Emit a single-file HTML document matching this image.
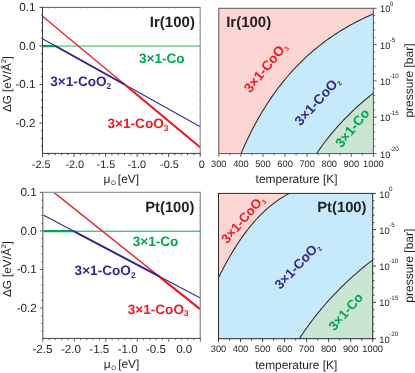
<!DOCTYPE html>
<html><head><meta charset="utf-8"><title>Phase diagrams</title>
<style>
html,body{margin:0;padding:0;background:#fff;}
body{width:415px;height:373px;overflow:hidden;position:relative;font-family:"Liberation Sans",sans-serif;}
</style></head><body>
<div id="fig" style="position:absolute;left:0;top:0;width:415px;height:373px;will-change:transform">
<svg width="415" height="373" viewBox="0 0 415 373" style="position:absolute;left:0;top:0" font-family="Liberation Sans, sans-serif" text-rendering="geometricPrecision">
<rect width="415" height="373" fill="#fff"/>
<clipPath id="rp2196"><rect x="218.8" y="8.3" width="154.6" height="145.3"/></clipPath>
<g clip-path="url(#rp2196)">
<rect x="218.8" y="8.3" width="154.6" height="145.3" fill="#fdd5d3"/>
<path d="M239.8,156.56 L241.51,152.5 L243.22,148.57 L244.93,144.76 L246.64,141.05 L248.35,137.46 L250.06,133.96 L251.77,130.57 L253.48,127.26 L255.19,124.05 L256.9,120.92 L258.61,117.88 L260.32,114.91 L262.03,112.02 L263.74,109.21 L265.45,106.46 L267.16,103.79 L268.87,101.18 L270.58,98.63 L272.29,96.15 L274,93.72 L275.71,91.35 L277.42,89.04 L279.13,86.78 L280.84,84.57 L282.55,82.42 L284.26,80.31 L285.97,78.25 L287.68,76.23 L289.39,74.26 L291.1,72.33 L292.81,70.44 L294.52,68.6 L296.23,66.79 L297.94,65.02 L299.65,63.29 L301.36,61.6 L303.07,59.94 L304.78,58.31 L306.49,56.72 L308.21,55.16 L309.92,53.64 L311.63,52.14 L313.34,50.67 L315.05,49.24 L316.76,47.83 L318.47,46.45 L320.18,45.1 L321.89,43.77 L323.6,42.47 L325.31,41.2 L327.02,39.95 L328.73,38.73 L330.44,37.53 L332.15,36.35 L333.86,35.19 L335.57,34.06 L337.28,32.95 L338.99,31.86 L340.7,30.79 L342.41,29.74 L344.12,28.72 L345.83,27.71 L347.54,26.72 L349.25,25.75 L350.96,24.8 L352.67,23.86 L354.38,22.95 L356.09,22.05 L357.8,21.17 L359.51,20.3 L361.22,19.45 L362.93,18.62 L364.64,17.8 L366.35,17 L368.06,16.22 L369.77,15.45 L371.48,14.69 L373.19,13.95 L374.9,13.22 L378.4,158.6 L239.8,158.6 Z" fill="#c7eafb"/>
<path d="M315.3,155.4 L316.05,154.28 L316.81,153.18 L317.56,152.09 L318.32,151.01 L319.07,149.94 L319.83,148.88 L320.58,147.83 L321.34,146.79 L322.09,145.76 L322.84,144.74 L323.6,143.73 L324.35,142.73 L325.11,141.74 L325.86,140.76 L326.62,139.78 L327.37,138.82 L328.13,137.86 L328.88,136.92 L329.63,135.98 L330.39,135.05 L331.14,134.13 L331.9,133.21 L332.65,132.31 L333.41,131.41 L334.16,130.52 L334.92,129.64 L335.67,128.77 L336.42,127.9 L337.18,127.04 L337.93,126.19 L338.69,125.35 L339.44,124.51 L340.2,123.69 L340.95,122.86 L341.71,122.05 L342.46,121.24 L343.21,120.44 L343.97,119.65 L344.72,118.86 L345.48,118.08 L346.23,117.3 L346.99,116.53 L347.74,115.77 L348.49,115.02 L349.25,114.27 L350,113.53 L350.76,112.79 L351.51,112.06 L352.27,111.33 L353.02,110.61 L353.78,109.9 L354.53,109.19 L355.28,108.49 L356.04,107.79 L356.79,107.1 L357.55,106.42 L358.3,105.74 L359.06,105.06 L359.81,104.39 L360.57,103.73 L361.32,103.07 L362.07,102.42 L362.83,101.77 L363.58,101.13 L364.34,100.49 L365.09,99.85 L365.85,99.23 L366.6,98.6 L367.36,97.98 L368.11,97.37 L368.86,96.76 L369.62,96.15 L370.37,95.55 L371.13,94.95 L371.88,94.36 L372.64,93.77 L373.39,93.19 L374.15,92.61 L374.9,92.04 L378.4,158.6 L315.3,158.6 Z" fill="#cae6d3"/>
<path d="M239.8,156.56 L241.51,152.5 L243.22,148.57 L244.93,144.76 L246.64,141.05 L248.35,137.46 L250.06,133.96 L251.77,130.57 L253.48,127.26 L255.19,124.05 L256.9,120.92 L258.61,117.88 L260.32,114.91 L262.03,112.02 L263.74,109.21 L265.45,106.46 L267.16,103.79 L268.87,101.18 L270.58,98.63 L272.29,96.15 L274,93.72 L275.71,91.35 L277.42,89.04 L279.13,86.78 L280.84,84.57 L282.55,82.42 L284.26,80.31 L285.97,78.25 L287.68,76.23 L289.39,74.26 L291.1,72.33 L292.81,70.44 L294.52,68.6 L296.23,66.79 L297.94,65.02 L299.65,63.29 L301.36,61.6 L303.07,59.94 L304.78,58.31 L306.49,56.72 L308.21,55.16 L309.92,53.64 L311.63,52.14 L313.34,50.67 L315.05,49.24 L316.76,47.83 L318.47,46.45 L320.18,45.1 L321.89,43.77 L323.6,42.47 L325.31,41.2 L327.02,39.95 L328.73,38.73 L330.44,37.53 L332.15,36.35 L333.86,35.19 L335.57,34.06 L337.28,32.95 L338.99,31.86 L340.7,30.79 L342.41,29.74 L344.12,28.72 L345.83,27.71 L347.54,26.72 L349.25,25.75 L350.96,24.8 L352.67,23.86 L354.38,22.95 L356.09,22.05 L357.8,21.17 L359.51,20.3 L361.22,19.45 L362.93,18.62 L364.64,17.8 L366.35,17 L368.06,16.22 L369.77,15.45 L371.48,14.69 L373.19,13.95 L374.9,13.22" fill="none" stroke="#2a2a2a" stroke-width="1.05"/>
<path d="M315.3,155.4 L316.05,154.28 L316.81,153.18 L317.56,152.09 L318.32,151.01 L319.07,149.94 L319.83,148.88 L320.58,147.83 L321.34,146.79 L322.09,145.76 L322.84,144.74 L323.6,143.73 L324.35,142.73 L325.11,141.74 L325.86,140.76 L326.62,139.78 L327.37,138.82 L328.13,137.86 L328.88,136.92 L329.63,135.98 L330.39,135.05 L331.14,134.13 L331.9,133.21 L332.65,132.31 L333.41,131.41 L334.16,130.52 L334.92,129.64 L335.67,128.77 L336.42,127.9 L337.18,127.04 L337.93,126.19 L338.69,125.35 L339.44,124.51 L340.2,123.69 L340.95,122.86 L341.71,122.05 L342.46,121.24 L343.21,120.44 L343.97,119.65 L344.72,118.86 L345.48,118.08 L346.23,117.3 L346.99,116.53 L347.74,115.77 L348.49,115.02 L349.25,114.27 L350,113.53 L350.76,112.79 L351.51,112.06 L352.27,111.33 L353.02,110.61 L353.78,109.9 L354.53,109.19 L355.28,108.49 L356.04,107.79 L356.79,107.1 L357.55,106.42 L358.3,105.74 L359.06,105.06 L359.81,104.39 L360.57,103.73 L361.32,103.07 L362.07,102.42 L362.83,101.77 L363.58,101.13 L364.34,100.49 L365.09,99.85 L365.85,99.23 L366.6,98.6 L367.36,97.98 L368.11,97.37 L368.86,96.76 L369.62,96.15 L370.37,95.55 L371.13,94.95 L371.88,94.36 L372.64,93.77 L373.39,93.19 L374.15,92.61 L374.9,92.04" fill="none" stroke="#2a2a2a" stroke-width="1.05"/>
</g>
<clipPath id="rp2378"><rect x="218.5" y="193.4" width="154.2" height="145.3"/></clipPath>
<g clip-path="url(#rp2378)">
<rect x="218.5" y="193.4" width="154.2" height="145.3" fill="#fdd5d3"/>
<path d="M216.9,281.07 L217.82,279.17 L218.74,277.29 L219.66,275.44 L220.58,273.61 L221.49,271.8 L222.41,270.01 L223.33,268.25 L224.25,266.51 L225.17,264.79 L226.09,263.1 L227.01,261.43 L227.93,259.78 L228.85,258.15 L229.77,256.55 L230.68,254.97 L231.6,253.41 L232.52,251.87 L233.44,250.36 L234.36,248.87 L235.28,247.4 L236.2,245.95 L237.12,244.52 L238.04,243.12 L238.96,241.73 L239.87,240.37 L240.79,239.03 L241.71,237.71 L242.63,236.41 L243.55,235.13 L244.47,233.87 L245.39,232.63 L246.31,231.41 L247.23,230.21 L248.15,229.03 L249.06,227.87 L249.98,226.73 L250.9,225.6 L251.82,224.5 L252.74,223.42 L253.66,222.35 L254.58,221.3 L255.5,220.27 L256.42,219.26 L257.34,218.26 L258.25,217.29 L259.17,216.33 L260.09,215.39 L261.01,214.46 L261.93,213.55 L262.85,212.66 L263.77,211.79 L264.69,210.93 L265.61,210.08 L266.53,209.26 L267.44,208.45 L268.36,207.65 L269.28,206.87 L270.2,206.11 L271.12,205.36 L272.04,204.63 L272.96,203.91 L273.88,203.2 L274.8,202.51 L275.72,201.84 L276.63,201.18 L277.55,200.53 L278.47,199.9 L279.39,199.28 L280.31,198.68 L281.23,198.09 L282.15,197.51 L283.07,196.94 L283.99,196.39 L284.91,195.86 L285.82,195.33 L286.74,194.82 L287.66,194.32 L288.58,193.83 L289.5,193.36 L377.7,188.4 L377.7,343.7 L213.5,343.7 Z" fill="#c7eafb"/>
<path d="M298,340.83 L298.96,339.33 L299.93,337.85 L300.89,336.38 L301.85,334.93 L302.82,333.5 L303.78,332.08 L304.74,330.68 L305.71,329.3 L306.67,327.94 L307.63,326.58 L308.6,325.25 L309.56,323.93 L310.52,322.62 L311.49,321.33 L312.45,320.05 L313.41,318.79 L314.38,317.54 L315.34,316.3 L316.3,315.08 L317.27,313.87 L318.23,312.67 L319.19,311.48 L320.16,310.31 L321.12,309.15 L322.08,308 L323.05,306.86 L324.01,305.73 L324.97,304.62 L325.94,303.51 L326.9,302.42 L327.86,301.33 L328.83,300.26 L329.79,299.2 L330.75,298.14 L331.72,297.1 L332.68,296.07 L333.64,295.04 L334.61,294.03 L335.57,293.02 L336.53,292.03 L337.49,291.04 L338.46,290.06 L339.42,289.09 L340.38,288.13 L341.35,287.17 L342.31,286.23 L343.27,285.29 L344.24,284.36 L345.2,283.44 L346.16,282.53 L347.13,281.62 L348.09,280.72 L349.05,279.83 L350.02,278.95 L350.98,278.07 L351.94,277.2 L352.91,276.33 L353.87,275.48 L354.83,274.63 L355.8,273.79 L356.76,272.95 L357.72,272.12 L358.69,271.29 L359.65,270.48 L360.61,269.66 L361.58,268.86 L362.54,268.06 L363.5,267.26 L364.47,266.48 L365.43,265.69 L366.39,264.92 L367.36,264.14 L368.32,263.38 L369.28,262.62 L370.25,261.86 L371.21,261.11 L372.17,260.37 L373.14,259.63 L374.1,258.89 L377.7,343.7 L298,343.7 Z" fill="#cae6d3"/>
<path d="M216.9,281.07 L217.82,279.17 L218.74,277.29 L219.66,275.44 L220.58,273.61 L221.49,271.8 L222.41,270.01 L223.33,268.25 L224.25,266.51 L225.17,264.79 L226.09,263.1 L227.01,261.43 L227.93,259.78 L228.85,258.15 L229.77,256.55 L230.68,254.97 L231.6,253.41 L232.52,251.87 L233.44,250.36 L234.36,248.87 L235.28,247.4 L236.2,245.95 L237.12,244.52 L238.04,243.12 L238.96,241.73 L239.87,240.37 L240.79,239.03 L241.71,237.71 L242.63,236.41 L243.55,235.13 L244.47,233.87 L245.39,232.63 L246.31,231.41 L247.23,230.21 L248.15,229.03 L249.06,227.87 L249.98,226.73 L250.9,225.6 L251.82,224.5 L252.74,223.42 L253.66,222.35 L254.58,221.3 L255.5,220.27 L256.42,219.26 L257.34,218.26 L258.25,217.29 L259.17,216.33 L260.09,215.39 L261.01,214.46 L261.93,213.55 L262.85,212.66 L263.77,211.79 L264.69,210.93 L265.61,210.08 L266.53,209.26 L267.44,208.45 L268.36,207.65 L269.28,206.87 L270.2,206.11 L271.12,205.36 L272.04,204.63 L272.96,203.91 L273.88,203.2 L274.8,202.51 L275.72,201.84 L276.63,201.18 L277.55,200.53 L278.47,199.9 L279.39,199.28 L280.31,198.68 L281.23,198.09 L282.15,197.51 L283.07,196.94 L283.99,196.39 L284.91,195.86 L285.82,195.33 L286.74,194.82 L287.66,194.32 L288.58,193.83 L289.5,193.36" fill="none" stroke="#2a2a2a" stroke-width="1.05"/>
<path d="M298,340.83 L298.96,339.33 L299.93,337.85 L300.89,336.38 L301.85,334.93 L302.82,333.5 L303.78,332.08 L304.74,330.68 L305.71,329.3 L306.67,327.94 L307.63,326.58 L308.6,325.25 L309.56,323.93 L310.52,322.62 L311.49,321.33 L312.45,320.05 L313.41,318.79 L314.38,317.54 L315.34,316.3 L316.3,315.08 L317.27,313.87 L318.23,312.67 L319.19,311.48 L320.16,310.31 L321.12,309.15 L322.08,308 L323.05,306.86 L324.01,305.73 L324.97,304.62 L325.94,303.51 L326.9,302.42 L327.86,301.33 L328.83,300.26 L329.79,299.2 L330.75,298.14 L331.72,297.1 L332.68,296.07 L333.64,295.04 L334.61,294.03 L335.57,293.02 L336.53,292.03 L337.49,291.04 L338.46,290.06 L339.42,289.09 L340.38,288.13 L341.35,287.17 L342.31,286.23 L343.27,285.29 L344.24,284.36 L345.2,283.44 L346.16,282.53 L347.13,281.62 L348.09,280.72 L349.05,279.83 L350.02,278.95 L350.98,278.07 L351.94,277.2 L352.91,276.33 L353.87,275.48 L354.83,274.63 L355.8,273.79 L356.76,272.95 L357.72,272.12 L358.69,271.29 L359.65,270.48 L360.61,269.66 L361.58,268.86 L362.54,268.06 L363.5,267.26 L364.47,266.48 L365.43,265.69 L366.39,264.92 L367.36,264.14 L368.32,263.38 L369.28,262.62 L370.25,261.86 L371.21,261.11 L372.17,260.37 L373.14,259.63 L374.1,258.89" fill="none" stroke="#2a2a2a" stroke-width="1.05"/>
</g>
<rect x="218.8" y="8.3" width="154.6" height="145.3" fill="none" stroke="#555" stroke-width="1.0"/>
<line x1="218.8" y1="153.6" x2="218.8" y2="156.9" stroke="#555" stroke-width="0.9"/>
<line x1="229.84" y1="153.6" x2="229.84" y2="155.3" stroke="#555" stroke-width="0.9"/>
<line x1="240.89" y1="153.6" x2="240.89" y2="156.9" stroke="#555" stroke-width="0.9"/>
<line x1="251.93" y1="153.6" x2="251.93" y2="155.3" stroke="#555" stroke-width="0.9"/>
<line x1="262.97" y1="153.6" x2="262.97" y2="156.9" stroke="#555" stroke-width="0.9"/>
<line x1="274.01" y1="153.6" x2="274.01" y2="155.3" stroke="#555" stroke-width="0.9"/>
<line x1="285.06" y1="153.6" x2="285.06" y2="156.9" stroke="#555" stroke-width="0.9"/>
<line x1="296.1" y1="153.6" x2="296.1" y2="155.3" stroke="#555" stroke-width="0.9"/>
<line x1="307.14" y1="153.6" x2="307.14" y2="156.9" stroke="#555" stroke-width="0.9"/>
<line x1="318.19" y1="153.6" x2="318.19" y2="155.3" stroke="#555" stroke-width="0.9"/>
<line x1="329.23" y1="153.6" x2="329.23" y2="156.9" stroke="#555" stroke-width="0.9"/>
<line x1="340.27" y1="153.6" x2="340.27" y2="155.3" stroke="#555" stroke-width="0.9"/>
<line x1="351.31" y1="153.6" x2="351.31" y2="156.9" stroke="#555" stroke-width="0.9"/>
<line x1="362.36" y1="153.6" x2="362.36" y2="155.3" stroke="#555" stroke-width="0.9"/>
<line x1="373.4" y1="153.6" x2="373.4" y2="156.9" stroke="#555" stroke-width="0.9"/>
<line x1="373.4" y1="8.3" x2="376.7" y2="8.3" stroke="#555" stroke-width="0.9"/>
<line x1="373.4" y1="15.56" x2="375.1" y2="15.56" stroke="#555" stroke-width="0.9"/>
<line x1="373.4" y1="22.83" x2="375.1" y2="22.83" stroke="#555" stroke-width="0.9"/>
<line x1="373.4" y1="30.09" x2="375.1" y2="30.09" stroke="#555" stroke-width="0.9"/>
<line x1="373.4" y1="37.36" x2="375.1" y2="37.36" stroke="#555" stroke-width="0.9"/>
<line x1="373.4" y1="44.62" x2="376.7" y2="44.62" stroke="#555" stroke-width="0.9"/>
<line x1="373.4" y1="51.89" x2="375.1" y2="51.89" stroke="#555" stroke-width="0.9"/>
<line x1="373.4" y1="59.15" x2="375.1" y2="59.15" stroke="#555" stroke-width="0.9"/>
<line x1="373.4" y1="66.42" x2="375.1" y2="66.42" stroke="#555" stroke-width="0.9"/>
<line x1="373.4" y1="73.68" x2="375.1" y2="73.68" stroke="#555" stroke-width="0.9"/>
<line x1="373.4" y1="80.95" x2="376.7" y2="80.95" stroke="#555" stroke-width="0.9"/>
<line x1="373.4" y1="88.21" x2="375.1" y2="88.21" stroke="#555" stroke-width="0.9"/>
<line x1="373.4" y1="95.48" x2="375.1" y2="95.48" stroke="#555" stroke-width="0.9"/>
<line x1="373.4" y1="102.74" x2="375.1" y2="102.74" stroke="#555" stroke-width="0.9"/>
<line x1="373.4" y1="110.01" x2="375.1" y2="110.01" stroke="#555" stroke-width="0.9"/>
<line x1="373.4" y1="117.27" x2="376.7" y2="117.27" stroke="#555" stroke-width="0.9"/>
<line x1="373.4" y1="124.54" x2="375.1" y2="124.54" stroke="#555" stroke-width="0.9"/>
<line x1="373.4" y1="131.8" x2="375.1" y2="131.8" stroke="#555" stroke-width="0.9"/>
<line x1="373.4" y1="139.07" x2="375.1" y2="139.07" stroke="#555" stroke-width="0.9"/>
<line x1="373.4" y1="146.33" x2="375.1" y2="146.33" stroke="#555" stroke-width="0.9"/>
<line x1="373.4" y1="153.6" x2="376.7" y2="153.6" stroke="#555" stroke-width="0.9"/>
<text x="218.8" y="166.8" font-size="9.3" text-anchor="middle" fill="#231f20">300</text>
<text x="240.89" y="166.8" font-size="9.3" text-anchor="middle" fill="#231f20">400</text>
<text x="262.97" y="166.8" font-size="9.3" text-anchor="middle" fill="#231f20">500</text>
<text x="285.06" y="166.8" font-size="9.3" text-anchor="middle" fill="#231f20">600</text>
<text x="307.14" y="166.8" font-size="9.3" text-anchor="middle" fill="#231f20">700</text>
<text x="329.23" y="166.8" font-size="9.3" text-anchor="middle" fill="#231f20">800</text>
<text x="351.31" y="166.8" font-size="9.3" text-anchor="middle" fill="#231f20">900</text>
<text x="373.4" y="166.8" font-size="9.3" text-anchor="middle" fill="#231f20">1000</text>
<text x="380" y="12.4" font-size="9.3" fill="#231f20">10<tspan font-size="6.3" dx="-0.6" dy="-6.8">0</tspan></text>
<text x="380" y="48.73" font-size="9.3" fill="#231f20">10<tspan font-size="6.3" dx="-0.6" dy="-6.8">-5</tspan></text>
<text x="380" y="85.05" font-size="9.3" fill="#231f20">10<tspan font-size="6.3" dx="-0.6" dy="-6.8">-10</tspan></text>
<text x="380" y="121.37" font-size="9.3" fill="#231f20">10<tspan font-size="6.3" dx="-0.6" dy="-6.8">-15</tspan></text>
<text x="380" y="157.7" font-size="9.3" fill="#231f20">10<tspan font-size="6.3" dx="-0.6" dy="-6.8">-20</tspan></text>
<text x="255.6" y="183" font-size="11.9" fill="#231f20">temperature [K]</text>
<text transform="translate(412.5,80.55) rotate(-90)" font-size="12" text-anchor="middle" fill="#231f20">pressure [bar]</text>
<rect x="218.5" y="193.4" width="154.2" height="145.3" fill="none" stroke="#2a2a2a" stroke-width="1.0"/>
<line x1="218.5" y1="338.7" x2="218.5" y2="342" stroke="#2a2a2a" stroke-width="0.9"/>
<line x1="229.51" y1="338.7" x2="229.51" y2="340.4" stroke="#2a2a2a" stroke-width="0.9"/>
<line x1="240.53" y1="338.7" x2="240.53" y2="342" stroke="#2a2a2a" stroke-width="0.9"/>
<line x1="251.54" y1="338.7" x2="251.54" y2="340.4" stroke="#2a2a2a" stroke-width="0.9"/>
<line x1="262.56" y1="338.7" x2="262.56" y2="342" stroke="#2a2a2a" stroke-width="0.9"/>
<line x1="273.57" y1="338.7" x2="273.57" y2="340.4" stroke="#2a2a2a" stroke-width="0.9"/>
<line x1="284.59" y1="338.7" x2="284.59" y2="342" stroke="#2a2a2a" stroke-width="0.9"/>
<line x1="295.6" y1="338.7" x2="295.6" y2="340.4" stroke="#2a2a2a" stroke-width="0.9"/>
<line x1="306.61" y1="338.7" x2="306.61" y2="342" stroke="#2a2a2a" stroke-width="0.9"/>
<line x1="317.63" y1="338.7" x2="317.63" y2="340.4" stroke="#2a2a2a" stroke-width="0.9"/>
<line x1="328.64" y1="338.7" x2="328.64" y2="342" stroke="#2a2a2a" stroke-width="0.9"/>
<line x1="339.66" y1="338.7" x2="339.66" y2="340.4" stroke="#2a2a2a" stroke-width="0.9"/>
<line x1="350.67" y1="338.7" x2="350.67" y2="342" stroke="#2a2a2a" stroke-width="0.9"/>
<line x1="361.69" y1="338.7" x2="361.69" y2="340.4" stroke="#2a2a2a" stroke-width="0.9"/>
<line x1="372.7" y1="338.7" x2="372.7" y2="342" stroke="#2a2a2a" stroke-width="0.9"/>
<line x1="372.7" y1="193.4" x2="376" y2="193.4" stroke="#2a2a2a" stroke-width="0.9"/>
<line x1="372.7" y1="200.66" x2="374.4" y2="200.66" stroke="#2a2a2a" stroke-width="0.9"/>
<line x1="372.7" y1="207.93" x2="374.4" y2="207.93" stroke="#2a2a2a" stroke-width="0.9"/>
<line x1="372.7" y1="215.19" x2="374.4" y2="215.19" stroke="#2a2a2a" stroke-width="0.9"/>
<line x1="372.7" y1="222.46" x2="374.4" y2="222.46" stroke="#2a2a2a" stroke-width="0.9"/>
<line x1="372.7" y1="229.72" x2="376" y2="229.72" stroke="#2a2a2a" stroke-width="0.9"/>
<line x1="372.7" y1="236.99" x2="374.4" y2="236.99" stroke="#2a2a2a" stroke-width="0.9"/>
<line x1="372.7" y1="244.25" x2="374.4" y2="244.25" stroke="#2a2a2a" stroke-width="0.9"/>
<line x1="372.7" y1="251.52" x2="374.4" y2="251.52" stroke="#2a2a2a" stroke-width="0.9"/>
<line x1="372.7" y1="258.78" x2="374.4" y2="258.78" stroke="#2a2a2a" stroke-width="0.9"/>
<line x1="372.7" y1="266.05" x2="376" y2="266.05" stroke="#2a2a2a" stroke-width="0.9"/>
<line x1="372.7" y1="273.31" x2="374.4" y2="273.31" stroke="#2a2a2a" stroke-width="0.9"/>
<line x1="372.7" y1="280.58" x2="374.4" y2="280.58" stroke="#2a2a2a" stroke-width="0.9"/>
<line x1="372.7" y1="287.84" x2="374.4" y2="287.84" stroke="#2a2a2a" stroke-width="0.9"/>
<line x1="372.7" y1="295.11" x2="374.4" y2="295.11" stroke="#2a2a2a" stroke-width="0.9"/>
<line x1="372.7" y1="302.38" x2="376" y2="302.38" stroke="#2a2a2a" stroke-width="0.9"/>
<line x1="372.7" y1="309.64" x2="374.4" y2="309.64" stroke="#2a2a2a" stroke-width="0.9"/>
<line x1="372.7" y1="316.9" x2="374.4" y2="316.9" stroke="#2a2a2a" stroke-width="0.9"/>
<line x1="372.7" y1="324.17" x2="374.4" y2="324.17" stroke="#2a2a2a" stroke-width="0.9"/>
<line x1="372.7" y1="331.43" x2="374.4" y2="331.43" stroke="#2a2a2a" stroke-width="0.9"/>
<line x1="372.7" y1="338.7" x2="376" y2="338.7" stroke="#2a2a2a" stroke-width="0.9"/>
<text x="218.5" y="351.9" font-size="9.3" text-anchor="middle" fill="#231f20">300</text>
<text x="240.53" y="351.9" font-size="9.3" text-anchor="middle" fill="#231f20">400</text>
<text x="262.56" y="351.9" font-size="9.3" text-anchor="middle" fill="#231f20">500</text>
<text x="284.59" y="351.9" font-size="9.3" text-anchor="middle" fill="#231f20">600</text>
<text x="306.61" y="351.9" font-size="9.3" text-anchor="middle" fill="#231f20">700</text>
<text x="328.64" y="351.9" font-size="9.3" text-anchor="middle" fill="#231f20">800</text>
<text x="350.67" y="351.9" font-size="9.3" text-anchor="middle" fill="#231f20">900</text>
<text x="372.7" y="351.9" font-size="9.3" text-anchor="middle" fill="#231f20">1000</text>
<text x="379.3" y="197.5" font-size="9.3" fill="#231f20">10<tspan font-size="6.3" dx="-0.6" dy="-6.8">0</tspan></text>
<text x="379.3" y="233.82" font-size="9.3" fill="#231f20">10<tspan font-size="6.3" dx="-0.6" dy="-6.8">-5</tspan></text>
<text x="379.3" y="270.15" font-size="9.3" fill="#231f20">10<tspan font-size="6.3" dx="-0.6" dy="-6.8">-10</tspan></text>
<text x="379.3" y="306.48" font-size="9.3" fill="#231f20">10<tspan font-size="6.3" dx="-0.6" dy="-6.8">-15</tspan></text>
<text x="379.3" y="342.8" font-size="9.3" fill="#231f20">10<tspan font-size="6.3" dx="-0.6" dy="-6.8">-20</tspan></text>
<text x="255.3" y="369.3" font-size="11.9" fill="#231f20">temperature [K]</text>
<text transform="translate(412.5,265.65) rotate(-90)" font-size="12" text-anchor="middle" fill="#231f20">pressure [bar]</text>
<clipPath id="cp1"><rect x="42.5" y="7.4" width="157.7" height="146"/></clipPath>
<g clip-path="url(#cp1)">
<line x1="55.4" y1="46.1" x2="200.2" y2="46.1" stroke="#88d2a4" stroke-width="1.7"/>
<line x1="42.5" y1="46.1" x2="55.4" y2="46.1" stroke="#00a651" stroke-width="2.2"/>
<line x1="42.5" y1="38.8" x2="202.54" y2="127.95" stroke="#36298d" stroke-width="1.1"/>
<line x1="42.5" y1="16.2" x2="202.54" y2="149.21" stroke="#ed1c24" stroke-width="1.25"/>
<line x1="55.4" y1="45.99" x2="125" y2="84.76" stroke="#36298d" stroke-width="1.9"/>
<line x1="125" y1="84.77" x2="202.54" y2="149.21" stroke="#ed1c24" stroke-width="2.0"/>
</g>
<line x1="42.5" y1="7.4" x2="200.2" y2="7.4" stroke="#4a4a4a" stroke-width="0.9"/>
<line x1="200.2" y1="6.95" x2="200.2" y2="153.4" stroke="#8c8c8c" stroke-width="1.1"/>
<line x1="42.5" y1="6.95" x2="42.5" y2="153.9" stroke="#3a3a3a" stroke-width="1.0"/>
<line x1="42.5" y1="153.4" x2="200.75" y2="153.4" stroke="#3a3a3a" stroke-width="1.0"/>
<line x1="48.81" y1="7.4" x2="48.81" y2="8.4" stroke="#4a4a4a" stroke-width="0.7" opacity="0.6"/>
<line x1="55.12" y1="7.4" x2="55.12" y2="8.4" stroke="#4a4a4a" stroke-width="0.7" opacity="0.6"/>
<line x1="61.42" y1="7.4" x2="61.42" y2="8.4" stroke="#4a4a4a" stroke-width="0.7" opacity="0.6"/>
<line x1="67.73" y1="7.4" x2="67.73" y2="8.4" stroke="#4a4a4a" stroke-width="0.7" opacity="0.6"/>
<line x1="74.04" y1="7.4" x2="74.04" y2="8.4" stroke="#4a4a4a" stroke-width="0.7" opacity="0.6"/>
<line x1="80.35" y1="7.4" x2="80.35" y2="8.4" stroke="#4a4a4a" stroke-width="0.7" opacity="0.6"/>
<line x1="86.66" y1="7.4" x2="86.66" y2="8.4" stroke="#4a4a4a" stroke-width="0.7" opacity="0.6"/>
<line x1="92.96" y1="7.4" x2="92.96" y2="8.4" stroke="#4a4a4a" stroke-width="0.7" opacity="0.6"/>
<line x1="99.27" y1="7.4" x2="99.27" y2="8.4" stroke="#4a4a4a" stroke-width="0.7" opacity="0.6"/>
<line x1="105.58" y1="7.4" x2="105.58" y2="8.4" stroke="#4a4a4a" stroke-width="0.7" opacity="0.6"/>
<line x1="111.89" y1="7.4" x2="111.89" y2="8.4" stroke="#4a4a4a" stroke-width="0.7" opacity="0.6"/>
<line x1="118.2" y1="7.4" x2="118.2" y2="8.4" stroke="#4a4a4a" stroke-width="0.7" opacity="0.6"/>
<line x1="124.5" y1="7.4" x2="124.5" y2="8.4" stroke="#4a4a4a" stroke-width="0.7" opacity="0.6"/>
<line x1="130.81" y1="7.4" x2="130.81" y2="8.4" stroke="#4a4a4a" stroke-width="0.7" opacity="0.6"/>
<line x1="137.12" y1="7.4" x2="137.12" y2="8.4" stroke="#4a4a4a" stroke-width="0.7" opacity="0.6"/>
<line x1="143.43" y1="7.4" x2="143.43" y2="8.4" stroke="#4a4a4a" stroke-width="0.7" opacity="0.6"/>
<line x1="149.74" y1="7.4" x2="149.74" y2="8.4" stroke="#4a4a4a" stroke-width="0.7" opacity="0.6"/>
<line x1="156.04" y1="7.4" x2="156.04" y2="8.4" stroke="#4a4a4a" stroke-width="0.7" opacity="0.6"/>
<line x1="162.35" y1="7.4" x2="162.35" y2="8.4" stroke="#4a4a4a" stroke-width="0.7" opacity="0.6"/>
<line x1="168.66" y1="7.4" x2="168.66" y2="8.4" stroke="#4a4a4a" stroke-width="0.7" opacity="0.6"/>
<line x1="174.97" y1="7.4" x2="174.97" y2="8.4" stroke="#4a4a4a" stroke-width="0.7" opacity="0.6"/>
<line x1="181.28" y1="7.4" x2="181.28" y2="8.4" stroke="#4a4a4a" stroke-width="0.7" opacity="0.6"/>
<line x1="187.58" y1="7.4" x2="187.58" y2="8.4" stroke="#4a4a4a" stroke-width="0.7" opacity="0.6"/>
<line x1="193.89" y1="7.4" x2="193.89" y2="8.4" stroke="#4a4a4a" stroke-width="0.7" opacity="0.6"/>
<line x1="199.2" y1="15.11" x2="200.8" y2="15.11" stroke="#6a6a6a" stroke-width="0.7" opacity="0.6"/>
<line x1="199.2" y1="22.82" x2="200.8" y2="22.82" stroke="#6a6a6a" stroke-width="0.7" opacity="0.6"/>
<line x1="199.2" y1="30.53" x2="200.8" y2="30.53" stroke="#6a6a6a" stroke-width="0.7" opacity="0.6"/>
<line x1="199.2" y1="38.24" x2="200.8" y2="38.24" stroke="#6a6a6a" stroke-width="0.7" opacity="0.6"/>
<line x1="199.2" y1="45.95" x2="200.8" y2="45.95" stroke="#6a6a6a" stroke-width="0.7" opacity="0.6"/>
<line x1="199.2" y1="53.66" x2="200.8" y2="53.66" stroke="#6a6a6a" stroke-width="0.7" opacity="0.6"/>
<line x1="199.2" y1="61.37" x2="200.8" y2="61.37" stroke="#6a6a6a" stroke-width="0.7" opacity="0.6"/>
<line x1="199.2" y1="69.08" x2="200.8" y2="69.08" stroke="#6a6a6a" stroke-width="0.7" opacity="0.6"/>
<line x1="199.2" y1="76.79" x2="200.8" y2="76.79" stroke="#6a6a6a" stroke-width="0.7" opacity="0.6"/>
<line x1="199.2" y1="84.5" x2="200.8" y2="84.5" stroke="#6a6a6a" stroke-width="0.7" opacity="0.6"/>
<line x1="199.2" y1="92.21" x2="200.8" y2="92.21" stroke="#6a6a6a" stroke-width="0.7" opacity="0.6"/>
<line x1="199.2" y1="99.92" x2="200.8" y2="99.92" stroke="#6a6a6a" stroke-width="0.7" opacity="0.6"/>
<line x1="199.2" y1="107.63" x2="200.8" y2="107.63" stroke="#6a6a6a" stroke-width="0.7" opacity="0.6"/>
<line x1="199.2" y1="115.34" x2="200.8" y2="115.34" stroke="#6a6a6a" stroke-width="0.7" opacity="0.6"/>
<line x1="199.2" y1="123.05" x2="200.8" y2="123.05" stroke="#6a6a6a" stroke-width="0.7" opacity="0.6"/>
<line x1="199.2" y1="130.76" x2="200.8" y2="130.76" stroke="#6a6a6a" stroke-width="0.7" opacity="0.6"/>
<line x1="199.2" y1="138.47" x2="200.8" y2="138.47" stroke="#6a6a6a" stroke-width="0.7" opacity="0.6"/>
<line x1="199.2" y1="146.18" x2="200.8" y2="146.18" stroke="#6a6a6a" stroke-width="0.7" opacity="0.6"/>
<line x1="42.5" y1="153.4" x2="42.5" y2="156.9" stroke="#3a3a3a" stroke-width="0.9"/>
<line x1="48.81" y1="153.4" x2="48.81" y2="155.2" stroke="#3a3a3a" stroke-width="0.9"/>
<line x1="55.12" y1="153.4" x2="55.12" y2="155.2" stroke="#3a3a3a" stroke-width="0.9"/>
<line x1="61.42" y1="153.4" x2="61.42" y2="155.2" stroke="#3a3a3a" stroke-width="0.9"/>
<line x1="67.73" y1="153.4" x2="67.73" y2="155.2" stroke="#3a3a3a" stroke-width="0.9"/>
<line x1="74.04" y1="153.4" x2="74.04" y2="156.9" stroke="#3a3a3a" stroke-width="0.9"/>
<line x1="80.35" y1="153.4" x2="80.35" y2="155.2" stroke="#3a3a3a" stroke-width="0.9"/>
<line x1="86.66" y1="153.4" x2="86.66" y2="155.2" stroke="#3a3a3a" stroke-width="0.9"/>
<line x1="92.96" y1="153.4" x2="92.96" y2="155.2" stroke="#3a3a3a" stroke-width="0.9"/>
<line x1="99.27" y1="153.4" x2="99.27" y2="155.2" stroke="#3a3a3a" stroke-width="0.9"/>
<line x1="105.58" y1="153.4" x2="105.58" y2="156.9" stroke="#3a3a3a" stroke-width="0.9"/>
<line x1="111.89" y1="153.4" x2="111.89" y2="155.2" stroke="#3a3a3a" stroke-width="0.9"/>
<line x1="118.2" y1="153.4" x2="118.2" y2="155.2" stroke="#3a3a3a" stroke-width="0.9"/>
<line x1="124.5" y1="153.4" x2="124.5" y2="155.2" stroke="#3a3a3a" stroke-width="0.9"/>
<line x1="130.81" y1="153.4" x2="130.81" y2="155.2" stroke="#3a3a3a" stroke-width="0.9"/>
<line x1="137.12" y1="153.4" x2="137.12" y2="156.9" stroke="#3a3a3a" stroke-width="0.9"/>
<line x1="143.43" y1="153.4" x2="143.43" y2="155.2" stroke="#3a3a3a" stroke-width="0.9"/>
<line x1="149.74" y1="153.4" x2="149.74" y2="155.2" stroke="#3a3a3a" stroke-width="0.9"/>
<line x1="156.04" y1="153.4" x2="156.04" y2="155.2" stroke="#3a3a3a" stroke-width="0.9"/>
<line x1="162.35" y1="153.4" x2="162.35" y2="155.2" stroke="#3a3a3a" stroke-width="0.9"/>
<line x1="168.66" y1="153.4" x2="168.66" y2="156.9" stroke="#3a3a3a" stroke-width="0.9"/>
<line x1="174.97" y1="153.4" x2="174.97" y2="155.2" stroke="#3a3a3a" stroke-width="0.9"/>
<line x1="181.28" y1="153.4" x2="181.28" y2="155.2" stroke="#3a3a3a" stroke-width="0.9"/>
<line x1="187.58" y1="153.4" x2="187.58" y2="155.2" stroke="#3a3a3a" stroke-width="0.9"/>
<line x1="193.89" y1="153.4" x2="193.89" y2="155.2" stroke="#3a3a3a" stroke-width="0.9"/>
<line x1="200.2" y1="153.4" x2="200.2" y2="156.9" stroke="#3a3a3a" stroke-width="0.9"/>
<line x1="39.5" y1="7.4" x2="42.5" y2="7.4" stroke="#3a3a3a" stroke-width="0.9"/>
<line x1="41" y1="15.11" x2="42.5" y2="15.11" stroke="#3a3a3a" stroke-width="0.9"/>
<line x1="41" y1="22.82" x2="42.5" y2="22.82" stroke="#3a3a3a" stroke-width="0.9"/>
<line x1="41" y1="30.53" x2="42.5" y2="30.53" stroke="#3a3a3a" stroke-width="0.9"/>
<line x1="41" y1="38.24" x2="42.5" y2="38.24" stroke="#3a3a3a" stroke-width="0.9"/>
<line x1="39.5" y1="45.95" x2="42.5" y2="45.95" stroke="#3a3a3a" stroke-width="0.9"/>
<line x1="41" y1="53.66" x2="42.5" y2="53.66" stroke="#3a3a3a" stroke-width="0.9"/>
<line x1="41" y1="61.37" x2="42.5" y2="61.37" stroke="#3a3a3a" stroke-width="0.9"/>
<line x1="41" y1="69.08" x2="42.5" y2="69.08" stroke="#3a3a3a" stroke-width="0.9"/>
<line x1="41" y1="76.79" x2="42.5" y2="76.79" stroke="#3a3a3a" stroke-width="0.9"/>
<line x1="39.5" y1="84.5" x2="42.5" y2="84.5" stroke="#3a3a3a" stroke-width="0.9"/>
<line x1="41" y1="92.21" x2="42.5" y2="92.21" stroke="#3a3a3a" stroke-width="0.9"/>
<line x1="41" y1="99.92" x2="42.5" y2="99.92" stroke="#3a3a3a" stroke-width="0.9"/>
<line x1="41" y1="107.63" x2="42.5" y2="107.63" stroke="#3a3a3a" stroke-width="0.9"/>
<line x1="41" y1="115.34" x2="42.5" y2="115.34" stroke="#3a3a3a" stroke-width="0.9"/>
<line x1="39.5" y1="123.05" x2="42.5" y2="123.05" stroke="#3a3a3a" stroke-width="0.9"/>
<line x1="41" y1="130.76" x2="42.5" y2="130.76" stroke="#3a3a3a" stroke-width="0.9"/>
<line x1="41" y1="138.47" x2="42.5" y2="138.47" stroke="#3a3a3a" stroke-width="0.9"/>
<line x1="41" y1="146.18" x2="42.5" y2="146.18" stroke="#3a3a3a" stroke-width="0.9"/>
<text x="35.6" y="11.3" font-size="11.7" text-anchor="end" fill="#231f20">0.1</text>
<text x="35.6" y="49.85" font-size="11.7" text-anchor="end" fill="#231f20">0.0</text>
<text x="35.6" y="88.4" font-size="11.7" text-anchor="end" fill="#231f20">-0.1</text>
<text x="35.6" y="126.95" font-size="11.7" text-anchor="end" fill="#231f20">-0.2</text>
<text x="41.2" y="168.3" font-size="10.9" text-anchor="middle" fill="#231f20">-2.5</text>
<text x="74.8" y="168.3" font-size="10.9" text-anchor="middle" fill="#231f20">-2.0</text>
<text x="106" y="168.3" font-size="10.9" text-anchor="middle" fill="#231f20">-1.5</text>
<text x="136.8" y="168.3" font-size="10.9" text-anchor="middle" fill="#231f20">-1.0</text>
<text x="169.4" y="168.3" font-size="10.9" text-anchor="middle" fill="#231f20">-0.5</text>
<text x="201.7" y="168.3" font-size="10.9" text-anchor="middle" fill="#231f20">0</text>
<text transform="translate(11.2,84.1) rotate(-90)" font-size="11.7" text-anchor="middle" fill="#231f20">ΔG [eV/Å<tspan font-size="7" dy="-5">2</tspan><tspan dy="5">]</tspan></text>
<text x="103.5" y="182.8" font-size="11.9" fill="#231f20">μ<tspan font-size="6.3" dx="0.7" dy="2.2">O</tspan><tspan dy="-2.2" dx="-1.4"> [eV]</tspan></text>
<clipPath id="cp2"><rect x="42.8" y="192.4" width="157.5" height="146"/></clipPath>
<g clip-path="url(#cp2)">
<line x1="74" y1="231.2" x2="200.2" y2="231.2" stroke="#00a651" stroke-width="1.0"/>
<line x1="43.2" y1="231.2" x2="74" y2="231.2" stroke="#00a651" stroke-width="2.3"/>
<line x1="43.2" y1="215.1" x2="203.34" y2="299.56" stroke="#36298d" stroke-width="1.1"/>
<line x1="53.9" y1="192.4" x2="203.13" y2="311.64" stroke="#ed1c24" stroke-width="1.4"/>
<line x1="74" y1="231.34" x2="160.2" y2="276.8" stroke="#36298d" stroke-width="1.9"/>
<line x1="160.2" y1="277.34" x2="203.13" y2="311.64" stroke="#ed1c24" stroke-width="2.1"/>
</g>
<line x1="42.8" y1="192.4" x2="200.3" y2="192.4" stroke="#999999" stroke-width="1.2"/>
<line x1="200.3" y1="191.8" x2="200.3" y2="338.4" stroke="#959595" stroke-width="1.3"/>
<line x1="42.8" y1="191.8" x2="42.8" y2="338.9" stroke="#8a8a8a" stroke-width="1.5"/>
<line x1="42.8" y1="338.4" x2="200.95" y2="338.4" stroke="#454545" stroke-width="1.0"/>
<line x1="49.1" y1="192.4" x2="49.1" y2="193.4" stroke="#999999" stroke-width="0.7" opacity="0.6"/>
<line x1="55.4" y1="192.4" x2="55.4" y2="193.4" stroke="#999999" stroke-width="0.7" opacity="0.6"/>
<line x1="61.7" y1="192.4" x2="61.7" y2="193.4" stroke="#999999" stroke-width="0.7" opacity="0.6"/>
<line x1="68" y1="192.4" x2="68" y2="193.4" stroke="#999999" stroke-width="0.7" opacity="0.6"/>
<line x1="74.3" y1="192.4" x2="74.3" y2="193.4" stroke="#999999" stroke-width="0.7" opacity="0.6"/>
<line x1="80.6" y1="192.4" x2="80.6" y2="193.4" stroke="#999999" stroke-width="0.7" opacity="0.6"/>
<line x1="86.9" y1="192.4" x2="86.9" y2="193.4" stroke="#999999" stroke-width="0.7" opacity="0.6"/>
<line x1="93.2" y1="192.4" x2="93.2" y2="193.4" stroke="#999999" stroke-width="0.7" opacity="0.6"/>
<line x1="99.5" y1="192.4" x2="99.5" y2="193.4" stroke="#999999" stroke-width="0.7" opacity="0.6"/>
<line x1="105.8" y1="192.4" x2="105.8" y2="193.4" stroke="#999999" stroke-width="0.7" opacity="0.6"/>
<line x1="112.1" y1="192.4" x2="112.1" y2="193.4" stroke="#999999" stroke-width="0.7" opacity="0.6"/>
<line x1="118.4" y1="192.4" x2="118.4" y2="193.4" stroke="#999999" stroke-width="0.7" opacity="0.6"/>
<line x1="124.7" y1="192.4" x2="124.7" y2="193.4" stroke="#999999" stroke-width="0.7" opacity="0.6"/>
<line x1="131" y1="192.4" x2="131" y2="193.4" stroke="#999999" stroke-width="0.7" opacity="0.6"/>
<line x1="137.3" y1="192.4" x2="137.3" y2="193.4" stroke="#999999" stroke-width="0.7" opacity="0.6"/>
<line x1="143.6" y1="192.4" x2="143.6" y2="193.4" stroke="#999999" stroke-width="0.7" opacity="0.6"/>
<line x1="149.9" y1="192.4" x2="149.9" y2="193.4" stroke="#999999" stroke-width="0.7" opacity="0.6"/>
<line x1="156.2" y1="192.4" x2="156.2" y2="193.4" stroke="#999999" stroke-width="0.7" opacity="0.6"/>
<line x1="162.5" y1="192.4" x2="162.5" y2="193.4" stroke="#999999" stroke-width="0.7" opacity="0.6"/>
<line x1="168.8" y1="192.4" x2="168.8" y2="193.4" stroke="#999999" stroke-width="0.7" opacity="0.6"/>
<line x1="175.1" y1="192.4" x2="175.1" y2="193.4" stroke="#999999" stroke-width="0.7" opacity="0.6"/>
<line x1="181.4" y1="192.4" x2="181.4" y2="193.4" stroke="#999999" stroke-width="0.7" opacity="0.6"/>
<line x1="187.7" y1="192.4" x2="187.7" y2="193.4" stroke="#999999" stroke-width="0.7" opacity="0.6"/>
<line x1="194" y1="192.4" x2="194" y2="193.4" stroke="#999999" stroke-width="0.7" opacity="0.6"/>
<line x1="199.3" y1="200.11" x2="200.9" y2="200.11" stroke="#6a6a6a" stroke-width="0.7" opacity="0.6"/>
<line x1="199.3" y1="207.82" x2="200.9" y2="207.82" stroke="#6a6a6a" stroke-width="0.7" opacity="0.6"/>
<line x1="199.3" y1="215.53" x2="200.9" y2="215.53" stroke="#6a6a6a" stroke-width="0.7" opacity="0.6"/>
<line x1="199.3" y1="223.24" x2="200.9" y2="223.24" stroke="#6a6a6a" stroke-width="0.7" opacity="0.6"/>
<line x1="199.3" y1="230.95" x2="200.9" y2="230.95" stroke="#6a6a6a" stroke-width="0.7" opacity="0.6"/>
<line x1="199.3" y1="238.66" x2="200.9" y2="238.66" stroke="#6a6a6a" stroke-width="0.7" opacity="0.6"/>
<line x1="199.3" y1="246.37" x2="200.9" y2="246.37" stroke="#6a6a6a" stroke-width="0.7" opacity="0.6"/>
<line x1="199.3" y1="254.08" x2="200.9" y2="254.08" stroke="#6a6a6a" stroke-width="0.7" opacity="0.6"/>
<line x1="199.3" y1="261.79" x2="200.9" y2="261.79" stroke="#6a6a6a" stroke-width="0.7" opacity="0.6"/>
<line x1="199.3" y1="269.5" x2="200.9" y2="269.5" stroke="#6a6a6a" stroke-width="0.7" opacity="0.6"/>
<line x1="199.3" y1="277.21" x2="200.9" y2="277.21" stroke="#6a6a6a" stroke-width="0.7" opacity="0.6"/>
<line x1="199.3" y1="284.92" x2="200.9" y2="284.92" stroke="#6a6a6a" stroke-width="0.7" opacity="0.6"/>
<line x1="199.3" y1="292.63" x2="200.9" y2="292.63" stroke="#6a6a6a" stroke-width="0.7" opacity="0.6"/>
<line x1="199.3" y1="300.34" x2="200.9" y2="300.34" stroke="#6a6a6a" stroke-width="0.7" opacity="0.6"/>
<line x1="199.3" y1="308.05" x2="200.9" y2="308.05" stroke="#6a6a6a" stroke-width="0.7" opacity="0.6"/>
<line x1="199.3" y1="315.76" x2="200.9" y2="315.76" stroke="#6a6a6a" stroke-width="0.7" opacity="0.6"/>
<line x1="199.3" y1="323.47" x2="200.9" y2="323.47" stroke="#6a6a6a" stroke-width="0.7" opacity="0.6"/>
<line x1="199.3" y1="331.18" x2="200.9" y2="331.18" stroke="#6a6a6a" stroke-width="0.7" opacity="0.6"/>
<line x1="42.8" y1="338.4" x2="42.8" y2="341.9" stroke="#555555" stroke-width="0.9"/>
<line x1="49.1" y1="338.4" x2="49.1" y2="340.2" stroke="#555555" stroke-width="0.9"/>
<line x1="55.4" y1="338.4" x2="55.4" y2="340.2" stroke="#555555" stroke-width="0.9"/>
<line x1="61.7" y1="338.4" x2="61.7" y2="340.2" stroke="#555555" stroke-width="0.9"/>
<line x1="68" y1="338.4" x2="68" y2="340.2" stroke="#555555" stroke-width="0.9"/>
<line x1="74.3" y1="338.4" x2="74.3" y2="341.9" stroke="#555555" stroke-width="0.9"/>
<line x1="80.6" y1="338.4" x2="80.6" y2="340.2" stroke="#555555" stroke-width="0.9"/>
<line x1="86.9" y1="338.4" x2="86.9" y2="340.2" stroke="#555555" stroke-width="0.9"/>
<line x1="93.2" y1="338.4" x2="93.2" y2="340.2" stroke="#555555" stroke-width="0.9"/>
<line x1="99.5" y1="338.4" x2="99.5" y2="340.2" stroke="#555555" stroke-width="0.9"/>
<line x1="105.8" y1="338.4" x2="105.8" y2="341.9" stroke="#555555" stroke-width="0.9"/>
<line x1="112.1" y1="338.4" x2="112.1" y2="340.2" stroke="#555555" stroke-width="0.9"/>
<line x1="118.4" y1="338.4" x2="118.4" y2="340.2" stroke="#555555" stroke-width="0.9"/>
<line x1="124.7" y1="338.4" x2="124.7" y2="340.2" stroke="#555555" stroke-width="0.9"/>
<line x1="131" y1="338.4" x2="131" y2="340.2" stroke="#555555" stroke-width="0.9"/>
<line x1="137.3" y1="338.4" x2="137.3" y2="341.9" stroke="#555555" stroke-width="0.9"/>
<line x1="143.6" y1="338.4" x2="143.6" y2="340.2" stroke="#555555" stroke-width="0.9"/>
<line x1="149.9" y1="338.4" x2="149.9" y2="340.2" stroke="#555555" stroke-width="0.9"/>
<line x1="156.2" y1="338.4" x2="156.2" y2="340.2" stroke="#555555" stroke-width="0.9"/>
<line x1="162.5" y1="338.4" x2="162.5" y2="340.2" stroke="#555555" stroke-width="0.9"/>
<line x1="168.8" y1="338.4" x2="168.8" y2="341.9" stroke="#555555" stroke-width="0.9"/>
<line x1="175.1" y1="338.4" x2="175.1" y2="340.2" stroke="#555555" stroke-width="0.9"/>
<line x1="181.4" y1="338.4" x2="181.4" y2="340.2" stroke="#555555" stroke-width="0.9"/>
<line x1="187.7" y1="338.4" x2="187.7" y2="340.2" stroke="#555555" stroke-width="0.9"/>
<line x1="194" y1="338.4" x2="194" y2="340.2" stroke="#555555" stroke-width="0.9"/>
<line x1="200.3" y1="338.4" x2="200.3" y2="341.9" stroke="#555555" stroke-width="0.9"/>
<line x1="39.8" y1="192.4" x2="42.8" y2="192.4" stroke="#555555" stroke-width="0.9"/>
<line x1="41.3" y1="200.11" x2="42.8" y2="200.11" stroke="#555555" stroke-width="0.9"/>
<line x1="41.3" y1="207.82" x2="42.8" y2="207.82" stroke="#555555" stroke-width="0.9"/>
<line x1="41.3" y1="215.53" x2="42.8" y2="215.53" stroke="#555555" stroke-width="0.9"/>
<line x1="41.3" y1="223.24" x2="42.8" y2="223.24" stroke="#555555" stroke-width="0.9"/>
<line x1="39.8" y1="230.95" x2="42.8" y2="230.95" stroke="#555555" stroke-width="0.9"/>
<line x1="41.3" y1="238.66" x2="42.8" y2="238.66" stroke="#555555" stroke-width="0.9"/>
<line x1="41.3" y1="246.37" x2="42.8" y2="246.37" stroke="#555555" stroke-width="0.9"/>
<line x1="41.3" y1="254.08" x2="42.8" y2="254.08" stroke="#555555" stroke-width="0.9"/>
<line x1="41.3" y1="261.79" x2="42.8" y2="261.79" stroke="#555555" stroke-width="0.9"/>
<line x1="39.8" y1="269.5" x2="42.8" y2="269.5" stroke="#555555" stroke-width="0.9"/>
<line x1="41.3" y1="277.21" x2="42.8" y2="277.21" stroke="#555555" stroke-width="0.9"/>
<line x1="41.3" y1="284.92" x2="42.8" y2="284.92" stroke="#555555" stroke-width="0.9"/>
<line x1="41.3" y1="292.63" x2="42.8" y2="292.63" stroke="#555555" stroke-width="0.9"/>
<line x1="41.3" y1="300.34" x2="42.8" y2="300.34" stroke="#555555" stroke-width="0.9"/>
<line x1="39.8" y1="308.05" x2="42.8" y2="308.05" stroke="#555555" stroke-width="0.9"/>
<line x1="41.3" y1="315.76" x2="42.8" y2="315.76" stroke="#555555" stroke-width="0.9"/>
<line x1="41.3" y1="323.47" x2="42.8" y2="323.47" stroke="#555555" stroke-width="0.9"/>
<line x1="41.3" y1="331.18" x2="42.8" y2="331.18" stroke="#555555" stroke-width="0.9"/>
<text x="36.8" y="196.3" font-size="11.7" text-anchor="end" fill="#231f20">0.1</text>
<text x="36.8" y="234.85" font-size="11.7" text-anchor="end" fill="#231f20">0.0</text>
<text x="36.8" y="273.4" font-size="11.7" text-anchor="end" fill="#231f20">-0.1</text>
<text x="36.8" y="311.95" font-size="11.7" text-anchor="end" fill="#231f20">-0.2</text>
<text x="42.5" y="353.3" font-size="11.6" text-anchor="middle" fill="#231f20">-2.5</text>
<text x="70.9" y="353.3" font-size="11.6" text-anchor="middle" fill="#231f20">-2.0</text>
<text x="99.3" y="353.3" font-size="11.6" text-anchor="middle" fill="#231f20">-1.5</text>
<text x="127.7" y="353.3" font-size="11.6" text-anchor="middle" fill="#231f20">-1.0</text>
<text x="155.9" y="353.3" font-size="11.6" text-anchor="middle" fill="#231f20">-0.5</text>
<text x="184.2" y="353.3" font-size="11.6" text-anchor="middle" fill="#231f20">0.0</text>
<text transform="translate(11.2,269.1) rotate(-90)" font-size="11.7" text-anchor="middle" fill="#231f20">ΔG [eV/Å<tspan font-size="7" dy="-5">2</tspan><tspan dy="5">]</tspan></text>
<text x="103.8" y="367.8" font-size="11.9" fill="#231f20">μ<tspan font-size="6.3" dx="0.7" dy="2.2">O</tspan><tspan dy="-2.2" dx="-1.4"> [eV]</tspan></text>
<text x="194.9" y="27.3" font-size="15" font-weight="bold" fill="#231f20" text-anchor="end">Ir(100)</text>
<text x="194.5" y="212.3" font-size="14.8" font-weight="bold" fill="#231f20" text-anchor="end">Pt(100)</text>
<text x="138.9" y="62.8" font-size="13.6" font-weight="bold" fill="#00a651" text-anchor="start">3×1-Co</text>
<text x="132.7" y="245.6" font-size="13.6" font-weight="bold" fill="#00a651" text-anchor="start">3×1-Co</text>
<text x="50.3" y="86.2" font-size="13.6" font-weight="bold" fill="#36298d" text-anchor="start">3×1-CoO<tspan font-size="8.43" dy="2.5">2</tspan></text>
<text x="107.5" y="128.3" font-size="13.6" font-weight="bold" fill="#ed1c24" text-anchor="start">3×1-CoO<tspan font-size="8.43" dy="2.5">3</tspan></text>
<text x="74.6" y="275.2" font-size="13.6" font-weight="bold" fill="#36298d" text-anchor="start">3×1-CoO<tspan font-size="8.43" dy="2.5">2</tspan></text>
<text x="127.7" y="313.6" font-size="13.6" font-weight="bold" fill="#ed1c24" text-anchor="start">3×1-CoO<tspan font-size="8.43" dy="2.5">3</tspan></text>
<text x="226.2" y="27.2" font-size="15" font-weight="bold" fill="#231f20" text-anchor="start">Ir(100)</text>
<text x="317.2" y="212.1" font-size="14.8" font-weight="bold" fill="#231f20" text-anchor="start">Pt(100)</text>
<text transform="translate(250.2,93.5) rotate(-51)" font-size="13.5" font-weight="bold" fill="#ed1c24" text-anchor="start">3×1-CoO<tspan font-size="6.34" dx="0.2" dy="2.3">3</tspan></text>
<text transform="translate(300.6,126.4) rotate(-48)" font-size="13.6" font-weight="bold" fill="#36298d" text-anchor="start">3×1-CoO<tspan font-size="6.39" dx="0.2" dy="2.3">2</tspan></text>
<text transform="translate(341.4,148.5) rotate(-50.5)" font-size="13.5" font-weight="bold" fill="#00a651" text-anchor="start">3×1-Co</text>
<text transform="translate(227.3,244.3) rotate(-49.5)" font-size="13.1" font-weight="bold" fill="#ed1c24" text-anchor="start">3×1-CoO<tspan font-size="6.16" dx="0.2" dy="2.3">3</tspan></text>
<text transform="translate(280.2,290) rotate(-46.5)" font-size="13.3" font-weight="bold" fill="#36298d" text-anchor="start">3×1-CoO<tspan font-size="6.25" dx="0.2" dy="2.3">2</tspan></text>
<text transform="translate(334.5,331.5) rotate(-49)" font-size="13.3" font-weight="bold" fill="#00a651" text-anchor="start">3×1-Co</text>
</svg>
</div>
</body></html>
